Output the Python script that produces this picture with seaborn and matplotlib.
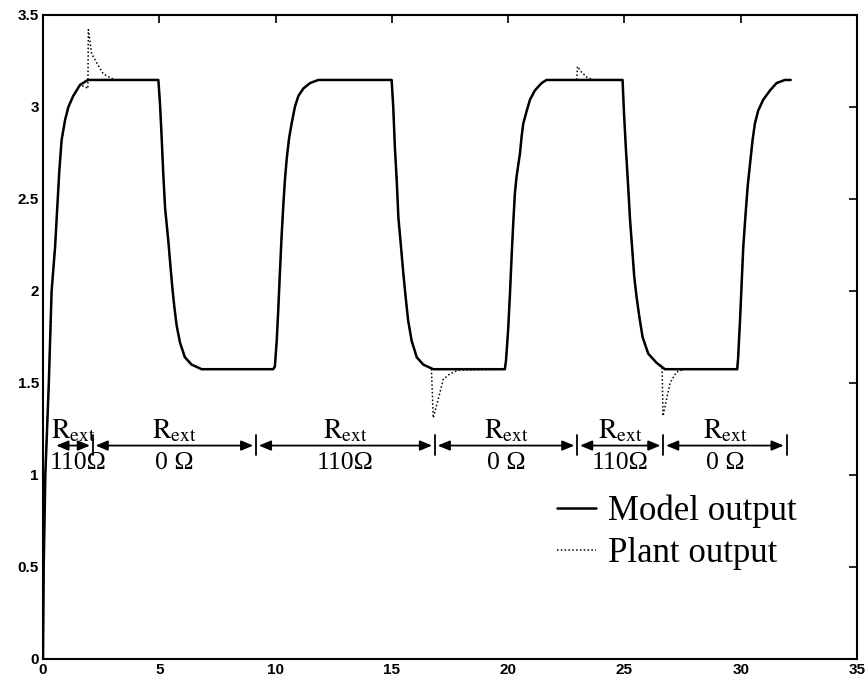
import matplotlib
matplotlib.use("Agg")
import matplotlib.pyplot as plt
import seaborn as sns
import pandas as pd

# ---------------- data ----------------
model_t = [0, 0.03, 0.10, 0.25, 0.37, 0.52, 0.59, 0.70, 0.80, 0.95, 1.09, 1.30, 1.59, 1.93,
           4.96, 5.03, 5.10, 5.17, 5.25, 5.39, 5.49, 5.56, 5.65, 5.75, 5.89, 6.10, 6.39, 6.82,
           9.90, 9.97, 10.05, 10.12, 10.19, 10.26, 10.33, 10.40, 10.48, 10.58, 10.69, 10.83, 10.98, 11.19, 11.48, 11.84,
           14.99, 15.06, 15.13, 15.21, 15.28, 15.38, 15.49, 15.59, 15.70, 15.85, 16.07, 16.35, 16.78,
           19.86, 19.91, 20.00, 20.08, 20.15, 20.22, 20.29, 20.36, 20.51, 20.58, 20.65, 20.80, 20.94, 21.15, 21.44, 21.65,
           24.92, 24.98, 25.06, 25.16, 25.24, 25.34, 25.42, 25.52, 25.64, 25.78, 26.02, 26.38, 26.74,
           29.85, 29.89, 29.97, 30.04, 30.11, 30.21, 30.30, 30.40, 30.51, 30.61, 30.75, 30.97, 31.26, 31.54, 31.90, 32.15]
model_y = [0, 0.5, 1.0, 1.5, 2.0, 2.24, 2.40, 2.65, 2.82, 2.93, 3.00, 3.06, 3.12, 3.147,
           3.147, 3.02, 2.84, 2.64, 2.45, 2.27, 2.12, 2.02, 1.91, 1.81, 1.72, 1.64, 1.60, 1.575,
           1.575, 1.59, 1.73, 1.91, 2.11, 2.30, 2.46, 2.60, 2.72, 2.83, 2.91, 3.00, 3.06, 3.10, 3.13, 3.147,
           3.147, 3.00, 2.78, 2.60, 2.40, 2.26, 2.10, 1.97, 1.84, 1.73, 1.64, 1.60, 1.575,
           1.575, 1.625, 1.79, 1.99, 2.19, 2.37, 2.53, 2.62, 2.75, 2.84, 2.91, 2.98, 3.04, 3.09, 3.13, 3.147,
           3.147, 2.97, 2.78, 2.57, 2.39, 2.22, 2.08, 1.97, 1.86, 1.75, 1.66, 1.61, 1.575,
           1.575, 1.64, 1.84, 2.04, 2.24, 2.42, 2.57, 2.69, 2.82, 2.91, 2.98, 3.04, 3.09, 3.13, 3.147, 3.147]

plant_t = [0, 0.03, 0.10, 0.25, 0.37, 0.52, 0.59, 0.70, 0.80, 0.95, 1.09, 1.30, 1.59, 1.81, 1.93,
           1.95, 2.09, 2.31, 2.59, 2.88, 3.10,
           4.96, 5.03, 5.10, 5.17, 5.25, 5.39, 5.49, 5.56, 5.65, 5.75, 5.89, 6.10, 6.39, 6.82,
           9.90, 9.97, 10.05, 10.12, 10.19, 10.26, 10.33, 10.40, 10.48, 10.58, 10.69, 10.83, 10.98, 11.19, 11.48, 11.84,
           14.99, 15.06, 15.13, 15.21, 15.28, 15.38, 15.49, 15.59, 15.70, 15.85, 16.07, 16.35, 16.70,
           16.78, 16.99, 17.21, 17.50, 17.86,
           19.86, 19.91, 20.00, 20.08, 20.15, 20.22, 20.29, 20.36, 20.51, 20.58, 20.65, 20.80, 20.94, 21.15, 21.44, 21.65,
           22.95, 22.98, 23.15, 23.40, 23.70,
           24.92, 24.98, 25.06, 25.16, 25.24, 25.34, 25.42, 25.52, 25.64, 25.78, 26.02, 26.38, 26.62,
           26.66, 26.96, 27.24, 27.60,
           29.85, 29.89, 29.97, 30.04, 30.11, 30.21, 30.30, 30.40, 30.51, 30.61, 30.75, 30.97, 31.26, 31.54, 31.90, 32.15]
plant_y = [0, 0.5, 1.0, 1.5, 2.0, 2.24, 2.40, 2.65, 2.82, 2.93, 3.00, 3.06, 3.12, 3.11, 3.10,
           3.42, 3.29, 3.24, 3.18, 3.16, 3.147,
           3.147, 3.02, 2.84, 2.64, 2.45, 2.27, 2.12, 2.02, 1.91, 1.81, 1.72, 1.64, 1.60, 1.575,
           1.575, 1.59, 1.73, 1.91, 2.11, 2.30, 2.46, 2.60, 2.72, 2.83, 2.91, 3.00, 3.06, 3.10, 3.13, 3.147,
           3.147, 3.00, 2.78, 2.60, 2.40, 2.26, 2.10, 1.97, 1.84, 1.73, 1.64, 1.60, 1.58,
           1.31, 1.41, 1.52, 1.55, 1.57,
           1.575, 1.625, 1.79, 1.99, 2.19, 2.37, 2.53, 2.62, 2.75, 2.84, 2.91, 2.98, 3.04, 3.09, 3.13, 3.147,
           3.147, 3.22, 3.19, 3.16, 3.147,
           3.147, 2.97, 2.78, 2.57, 2.39, 2.22, 2.08, 1.97, 1.86, 1.75, 1.66, 1.61, 1.58,
           1.32, 1.50, 1.56, 1.575,
           1.575, 1.64, 1.84, 2.04, 2.24, 2.42, 2.57, 2.69, 2.82, 2.91, 2.98, 3.04, 3.09, 3.13, 3.147, 3.147]

segment_edges = [0.45, 2.14, 9.16, 16.85, 22.97, 26.67, 31.97]
segment_labels = ["110Ω", "0 Ω", "110Ω", "0 Ω", "110Ω", "0 Ω"]
legend_labels = ["Model output", "Plant output"]
x_ticks = [0, 5, 10, 15, 20, 25, 30, 35]
y_ticks = [0, 0.5, 1, 1.5, 2, 2.5, 3, 3.5]
y_tick_labels = ["0", "0.5", "1", "1.5", "2", "2.5", "3", "3.5"]

# ---------------- figure ----------------
sns.set_theme(style="white")
plt.rcParams["mathtext.fontset"] = "stix"
plt.rcParams["text.color"] = "black"

fig = plt.figure(figsize=(8.65, 6.82), dpi=100)
ax = fig.add_axes([43 / 865, 1 - 659 / 682, (857 - 43) / 865, (659 - 15) / 682])

model_df = pd.DataFrame({"t": model_t, "y": model_y})
plant_df = pd.DataFrame({"t": plant_t, "y": plant_y})

sns.lineplot(data=plant_df, x="t", y="y", ax=ax, estimator=None, sort=False,
             color="black", lw=1.1, linestyle=(0, (1, 1.5)), label=legend_labels[1])
sns.lineplot(data=model_df, x="t", y="y", ax=ax, estimator=None, sort=False,
             color="black", lw=1.8, label=legend_labels[0])

ax.set_xlim(0, 35)
ax.set_ylim(0, 3.5)
ax.set_xticks(x_ticks)
ax.set_xticklabels([str(v) for v in x_ticks])
ax.set_yticks(y_ticks)
ax.set_yticklabels(y_tick_labels)
ax.set_xlabel("")
ax.set_ylabel("")
for s in ax.spines.values():
    s.set_color("black")
    s.set_linewidth(1.5)
ax.tick_params(direction="in", top=True, right=True, length=6, width=1.2,
               colors="black", labelcolor="black", pad=3)
for lab in ax.get_xticklabels() + ax.get_yticklabels():
    lab.set_fontfamily("Liberation Sans")
    lab.set_fontweight("bold")
    lab.set_fontsize(11)

# R_ext segment annotations
arrow_y = 1.16
for i, lab in enumerate(segment_labels):
    a, b = segment_edges[i], segment_edges[i + 1]
    ax.annotate("", xy=(b - 0.12, arrow_y), xytext=(a + 0.12, arrow_y),
                arrowprops=dict(arrowstyle="<|-|>,head_length=0.6,head_width=0.25",
                                color="black", lw=1.3, shrinkA=0, shrinkB=0))
    mid = (a + b) / 2
    ax.text(mid, 1.165, r"$\mathrm{R}_{\mathrm{ext}}$", ha="center", va="bottom",
            fontsize=20, color="black")
    ax.text(mid + (0.2 if i == 0 else 0), 1.125, lab, ha="center", va="top",
            fontsize=18.5, color="black", family="Liberation Serif")
for e in segment_edges[1:]:
    ax.plot([e, e], [1.11, 1.215], color="black", lw=1.3)

# legend
handles, labels = ax.get_legend_handles_labels()
order = [labels.index(legend_labels[0]), labels.index(legend_labels[1])]
leg = ax.legend([handles[k] for k in order], [labels[k] for k in order],
                loc="upper left", bbox_to_anchor=(0.632, 0.255), frameon=False,
                handlelength=1.1, handletextpad=0.35, labelspacing=0.25,
                borderpad=0, borderaxespad=0, labelcolor="black",
                prop={"family": "Liberation Serif", "size": 25})

fig.savefig("out.png", dpi=100, facecolor="white")
